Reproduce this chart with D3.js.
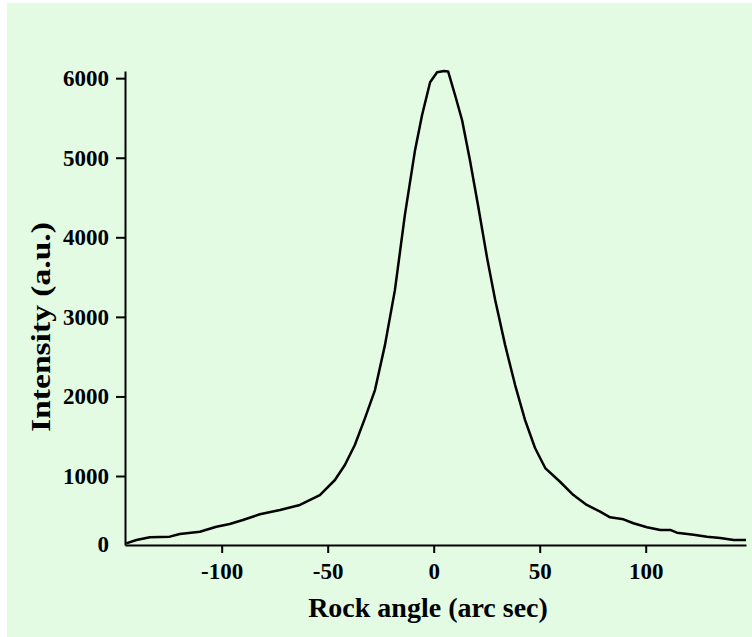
<!DOCTYPE html>
<html>
<head>
<meta charset="utf-8">
<script src="https://cdn.jsdelivr.net/npm/d3@7"></script>
<style>
  body { margin: 0; background: #ffffff; }
  svg { display: block; }
</style>
</head>
<body>
<div id="grafico"></div>
<script>
// Rocking curve data
const angles = [-145.0, -140.2, -133.9, -124.5, -119.8, -110.3, -102.5, -96.2, -90.0, -82.0,
  -72.5, -63.1, -53.7, -46.6, -41.9, -37.2, -32.4, -27.7, -23.0, -18.3,
  -13.6, -8.8, -5.5, -1.7, 1.6, 4.9, 6.8, 10.1, 13.4, 17.1,
  20.9, 25.2, 29.0, 33.7, 38.4, 43.1, 47.8, 52.6, 59.6, 65.9,
  72.2, 78.5, 83.2, 89.5, 94.2, 100.6, 106.9, 111.6, 114.7, 122.6,
  128.9, 135.2, 141.5, 147.3];
const intensities = [154, 196, 230, 238, 272, 300, 363, 397, 447, 519,
  573, 636, 761, 950, 1138, 1389, 1728, 2080, 2645, 3336,
  4278, 5095, 5534, 5949, 6074, 6090, 6085, 5785, 5471, 4969,
  4404, 3738, 3211, 2645, 2143, 1703, 1352, 1100, 928, 761,
  636, 552, 481, 456, 406, 356, 322, 322, 288, 263,
  238, 221, 196, 196];

const xTicks = [-100, -50, 0, 50, 100];
const yTicks = [1000, 2000, 3000, 4000, 5000, 6000];

const width = 752;
const height = 637;
const margin = { top: 71, right: 6, bottom: 92, left: 125 };

const data = angles.map((a, i) => ({ angle: a, value: intensities[i] }));

const svg = d3.select("#grafico")
    .append("svg")
    .attr("width", width)
    .attr("height", height);

// fondo verde claro
svg.append("rect")
    .attr("x", 7)
    .attr("y", 3)
    .attr("width", width - 7)
    .attr("height", height - 3)
    .attr("fill", "#e3fae3");

const x = d3.scaleLinear()
    .domain([-145.6, 147.3])
    .range([margin.left, width - margin.right]);

const y = d3.scaleLinear()
    .domain([133, 6090])
    .range([height - margin.bottom, margin.top]);

const font = "'Liberation Serif', 'Times New Roman', serif";
const plain = d => String(d);

const xAxis = svg.append("g")
    .attr("transform", `translate(0, ${height - margin.bottom})`)
    .call(d3.axisBottom(x).tickValues(xTicks).tickFormat(plain)
        .tickSize(8).tickSizeOuter(0).tickPadding(10));

const yAxis = svg.append("g")
    .attr("transform", `translate(${margin.left}, 0)`)
    .call(d3.axisLeft(y).tickValues(yTicks).tickFormat(plain)
        .tickSize(9).tickSizeOuter(0).tickPadding(7));

[xAxis, yAxis].forEach(g => {
    g.select(".domain").attr("stroke", "#000").attr("stroke-width", 2);
    g.selectAll(".tick line").attr("stroke", "#000").attr("stroke-width", 2);
    g.selectAll(".tick text")
        .attr("fill", "#000")
        .style("font-family", font)
        .style("font-weight", "bold")
        .style("font-size", "23px");
});

// etiqueta "0" en la base del eje
yAxis.append("text")
    .attr("x", -16)
    .attr("y", y(133))
    .attr("dy", "0.32em")
    .attr("text-anchor", "end")
    .attr("fill", "#000")
    .style("font-family", font)
    .style("font-weight", "bold")
    .style("font-size", "23px")
    .text("0");

const line = d3.line()
    .x(d => x(d.angle))
    .y(d => y(d.value));

svg.append("path")
    .datum(data)
    .attr("fill", "none")
    .attr("stroke", "#000")
    .attr("stroke-width", 2.5)
    .attr("stroke-linejoin", "round")
    .attr("d", line);

svg.append("text")
    .attr("x", 428)
    .attr("y", 617)
    .attr("text-anchor", "middle")
    .style("font-family", font)
    .style("font-weight", "bold")
    .style("font-size", "28px")
    .text("Rock angle (arc sec)");

// el título vertical es más ancho en el original
svg.append("text")
    .attr("transform", `translate(50, 327) rotate(-90) scale(1.2, 1)`)
    .attr("text-anchor", "middle")
    .style("font-family", font)
    .style("font-weight", "bold")
    .style("font-size", "28px")
    .text("Intensity (a.u.)");
</script>
</body>
</html>
